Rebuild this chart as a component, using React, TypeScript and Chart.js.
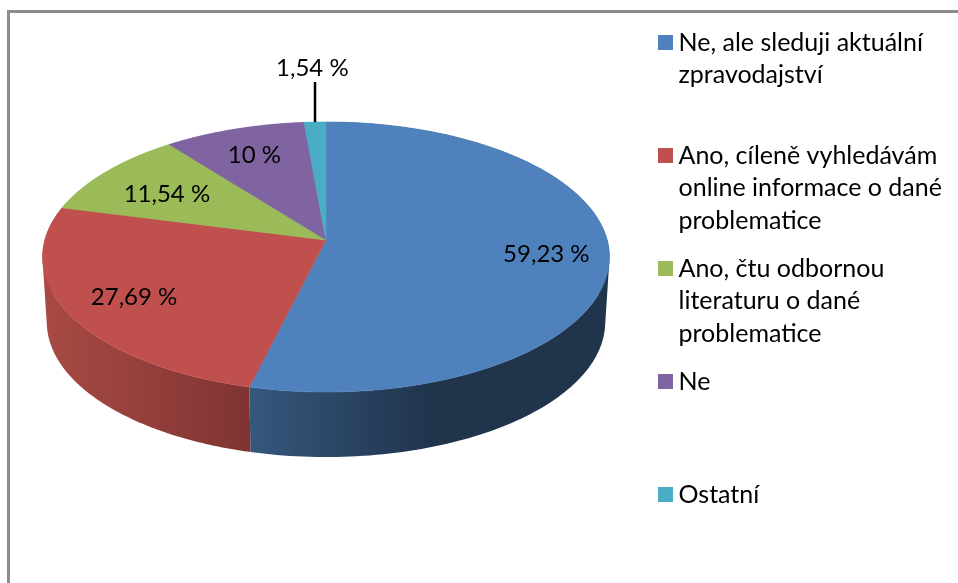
import React, { useEffect, useRef } from "react";
import { Chart, registerables } from "chart.js";

Chart.register(...registerables);

const categories = [
  ["Ne, ale sleduji aktuální", "zpravodajství"],
  ["Ano, cíleně vyhledávám", "online informace o dané", "problematice"],
  ["Ano, čtu odbornou", "literaturu o dané", "problematice"],
  ["Ne"],
  ["Ostatní"],
];
const percentages = [59.23, 27.69, 11.54, 10, 1.54];
const sliceColors = ["#4F81BD", "#C0504D", "#9BBB59", "#8064A2", "#4BACC6"];
const labelRadii = [0.78, 0.76, 0.7, 0.76, 1.57];
const labelTurns = [0, -0.01, -0.02, 0, 0.007];

const FONT = "Lato, Carlito, Calibri, sans-serif";
const LABEL_SIZE = 24;
const LABEL_DROP = 2;
const LEGEND_SIZE = 25;
const LEGEND_ROWS = 3;
const LEGEND_PADDING = 15.5;

// Projection of the tilted disc
const CX = 326;
const CY = 240;
const A = 132.9;
const B = -0.126;
const C = 281.2;
const DEPTH = 65;
const BOTTOM_SCALE = 0.985;

type Pt = { x: number; y: number };

const project = (r: number, angle: number): Pt => {
  const u = r * Math.cos(angle);
  const v = r * Math.sin(angle);
  const den = 1 + B * v;
  return { x: CX + (C * u) / den, y: CY + (A * v) / den };
};
const lower = (p: Pt): Pt => ({
  x: CX + (p.x - CX) * BOTTOM_SCALE,
  y: p.y + DEPTH,
});

const sideFill = (ctx: CanvasRenderingContext2D, i: number) => {
  if (i === 0) {
    const g = ctx.createLinearGradient(250, 0, 430, 0);
    g.addColorStop(0, "#36577d");
    g.addColorStop(1, "#20344c");
    return g;
  }
  if (i === 1) {
    const g = ctx.createLinearGradient(45, 0, 250, 0);
    g.addColorStop(0, "#a84a45");
    g.addColorStop(1, "#7f3432");
    return g;
  }
  return sliceColors[i];
};

const addQuad = (ctx: CanvasRenderingContext2D, quad: Pt[]) => {
  let area = 0;
  quad.forEach((p, k) => {
    const q = quad[(k + 1) % quad.length];
    area += p.x * q.y - q.x * p.y;
  });
  const pts = area < 0 ? quad.slice().reverse() : quad;
  pts.forEach((p, k) => (k ? ctx.lineTo(p.x, p.y) : ctx.moveTo(p.x, p.y)));
  ctx.closePath();
};

const tiltedPie = {
  id: "tiltedPie",
  afterLayout(chart: any) {
    const legend = chart.legend;
    legend.left = 665 - LEGEND_PADDING;
    legend.right = 958;
    legend.top = 30 - LEGEND_PADDING;
    legend.bottom = 700;
  },
  beforeDraw(chart: any) {
    const { ctx } = chart;
    ctx.save();
    ctx.strokeStyle = "#8c8c8c";
    ctx.lineWidth = 3;
    ctx.strokeRect(8.5, 11.5, 1400, 1400);
    ctx.restore();
  },
  beforeDatasetDraw(chart: any, args: any) {
    const { ctx } = chart;
    const arcs = args.meta.data;
    const N = 160;
    ctx.save();
    arcs.forEach((arc: any, i: number) => {
      const { startAngle, endAngle } = arc;
      const pts: Pt[] = [];
      for (let k = 0; k <= N; k++) pts.push(project(1, startAngle + ((endAngle - startAngle) * k) / N));
      ctx.beginPath();
      for (let k = 0; k < N; k++) {
        addQuad(ctx, [pts[k], pts[k + 1], lower(pts[k + 1]), lower(pts[k])]);
      }
      ctx.fillStyle = sideFill(ctx, i);
      ctx.fill();
    });
    arcs.forEach((arc: any, i: number) => {
      const { startAngle, endAngle } = arc;
      ctx.beginPath();
      ctx.moveTo(CX, CY);
      for (let k = 0; k <= N; k++) {
        const p = project(1, startAngle + ((endAngle - startAngle) * k) / N);
        ctx.lineTo(p.x, p.y);
      }
      ctx.closePath();
      ctx.fillStyle = sliceColors[i];
      ctx.strokeStyle = sliceColors[i];
      ctx.lineWidth = 0.6;
      ctx.fill();
      ctx.stroke();
    });
    ctx.restore();
    return false;
  },
  afterDatasetsDraw(chart: any) {
    const { ctx } = chart;
    const arcs = chart.getDatasetMeta(0).data;
    ctx.save();
    ctx.fillStyle = "#000";
    ctx.textAlign = "center";
    ctx.textBaseline = "middle";
    ctx.font = `${LABEL_SIZE}px ${FONT}`;
    arcs.forEach((arc: any, i: number) => {
      const mid = (arc.startAngle + arc.endAngle) / 2;
      if (labelRadii[i] > 1) {
        const from = project(1, mid);
        const to = project(1.4, mid);
        ctx.strokeStyle = "#000";
        ctx.lineWidth = 2.5;
        ctx.beginPath();
        ctx.moveTo(from.x, from.y);
        ctx.lineTo(from.x, to.y);
        ctx.stroke();
      }
      const p = project(labelRadii[i], mid + labelTurns[i]);
      ctx.fillText(`${String(percentages[i]).replace(".", ",")} %`, p.x, p.y + LABEL_DROP);
    });
    ctx.restore();
  },
};

export default function App() {
  const ref = useRef<HTMLCanvasElement>(null);
  useEffect(() => {
    document.body.style.margin = "0";
    const chart = new Chart(ref.current!, {
      type: "pie",
      data: {
        labels: categories as any,
        datasets: [{ data: percentages, backgroundColor: sliceColors, borderWidth: 0 }],
      },
      options: {
        responsive: false,
        animation: false,
        plugins: {
          tooltip: { enabled: false },
          legend: {
            position: "right",
            align: "start",
            labels: {
              // A 1px box with a 14px border of its own colour: a 15px square with a tighter text gap.
              boxWidth: 1,
              boxHeight: 1,
              padding: LEGEND_PADDING,
              color: "#000",
              font: { family: FONT, size: LEGEND_SIZE, lineHeight: 32.5 / LEGEND_SIZE },
              generateLabels(chart: any) {
                return Chart.overrides.pie.plugins.legend.labels
                  .generateLabels(chart)
                  .map((item: any) => ({
                    ...item,
                    text: [...item.text, "", ""].slice(0, LEGEND_ROWS),
                    strokeStyle: item.fillStyle,
                    lineWidth: 14,
                  }));
              },
            },
          },
        },
      },
      plugins: [tiltedPie],
    } as any);
    return () => chart.destroy();
  }, []);
  return (
    <div style={{ width: 958, height: 583, overflow: "hidden" }}>
      <canvas ref={ref} width={958} height={583} style={{ display: "block" }} />
    </div>
  );
}
